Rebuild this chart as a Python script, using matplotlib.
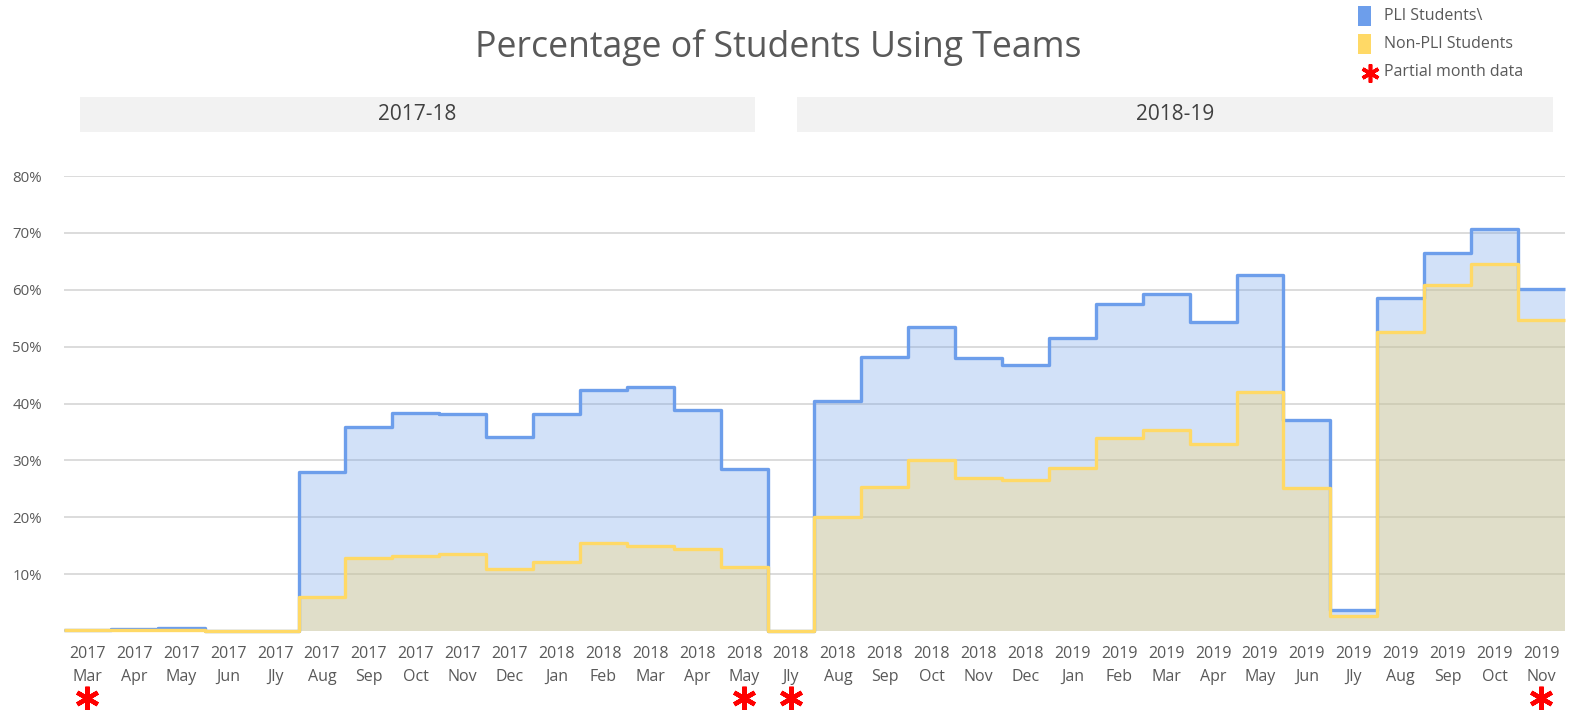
import numpy as np
import matplotlib
matplotlib.use("Agg")
import matplotlib.pyplot as plt
from matplotlib.patches import Rectangle
from matplotlib.transforms import blended_transform_factory
from matplotlib.lines import Line2D

# ---- data ----
years = ["2017"] * 10 + ["2018"] * 5 + ["2018"] * 6 + ["2019"] * 11
months = ["Mar", "Apr", "May", "Jun", "Jly", "Aug", "Sep", "Oct", "Nov", "Dec",
          "Jan", "Feb", "Mar", "Apr", "May",
          "Jly", "Aug", "Sep", "Oct", "Nov", "Dec",
          "Jan", "Feb", "Mar", "Apr", "May", "Jun", "Jly", "Aug", "Sep", "Oct", "Nov"]
pli = [0.1, 0.3, 0.5, 0.05, 0.05, 27.9, 35.8, 38.4, 38.1, 34.1,
       38.2, 42.3, 42.9, 38.9, 28.4,
       0.0, 40.4, 48.2, 53.4, 48.0, 46.7,
       51.5, 57.5, 59.2, 54.3, 62.6, 37.1, 3.7, 58.6, 66.5, 70.6, 60.2]
non_pli = [0.1, 0.1, 0.1, 0.05, 0.05, 5.9, 12.9, 13.2, 13.6, 10.9,
           12.2, 15.4, 15.0, 14.5, 11.3,
           0.0, 20.1, 25.3, 30.0, 26.9, 26.6,
           28.7, 34.0, 35.3, 32.9, 42.1, 25.1, 2.6, 52.6, 60.9, 64.6, 54.7]
partial_months = ["2017 Mar", "2018 May", "2018 Jly", "2019 Nov"]
yticks = [10, 20, 30, 40, 50, 60, 70, 80]
facets = ["2017-18", "2018-19"]
title = "Percentage of Students Using Teams"
legend_labels = ["PLI Students\\", "Non-PLI Students", "Partial month data"]

# ---- style ----
W, H = 1571, 710
BLUE = "#6d9eeb"
YELLOW = "#ffd966"
GRAY = "#595959"
FONT = ["Open Sans", "DejaVu Sans"]
plt.rcParams["font.family"] = FONT

fig = plt.figure(figsize=(W / 100, H / 100), dpi=100)
ax_left, ax_right, ax_top, ax_bot = 64, 64 + 32 * 46.9, 176, 631
ax = fig.add_axes([ax_left / W, 1 - ax_bot / H, (ax_right - ax_left) / W, (ax_bot - ax_top) / H])

n = len(months)
edges = np.arange(n + 1)
p = np.append(pli, pli[-1])
q = np.append(non_pli, non_pli[-1])

ax.fill_between(edges, 0, p, step="post", color=BLUE, alpha=0.3, lw=0, zorder=2)
ax.fill_between(edges, 0, q, step="post", color=YELLOW, alpha=0.32, lw=0, zorder=3)
ax.plot(edges, p, drawstyle="steps-post", color=BLUE, lw=2.4, solid_joinstyle="round",
        solid_capstyle="butt", zorder=4, clip_on=False)
ax.plot(edges, q, drawstyle="steps-post", color=YELLOW, lw=2.4, solid_joinstyle="round",
        solid_capstyle="butt", zorder=5, clip_on=False)

ax.set_xlim(0, n)
ax.set_ylim(0, 80)
ax.set_yticks(yticks)
ax.set_yticklabels([f"{v}%" for v in yticks])
ax.yaxis.grid(True, color="#d9d9d9", lw=1.3, zorder=1)
ax.set_axisbelow(True)
ax.tick_params(axis="y", length=0, pad=16, labelsize=10.8, labelcolor=GRAY)
centers = np.arange(n) + 0.5
ax.set_xticks(centers)
ax.set_xticklabels([f"{y}\n{m}" for y, m in zip(years, months)], linespacing=1.6)
ax.tick_params(axis="x", length=0, pad=10.5, labelsize=11.5, labelcolor=GRAY)
for s in ax.spines.values():
    s.set_visible(False)

# partial-month asterisks
cats = [f"{y} {m}" for y, m in zip(years, months)]
tr = blended_transform_factory(ax.transData, fig.transFigure)
for c in partial_months:
    i = cats.index(c)
    ax.plot([centers[i]], [1 - 698 / H], transform=tr, marker=(6, 2, 0), ms=17,
            mew=3.2, color="#ff0000", clip_on=False, zorder=6)

# title
fig.text(778 / W, 1 - 47 / H, title, ha="center", va="center", fontsize=25.7, color=GRAY)

# facet strips
for (x0, x1), lab in zip([(80, 755), (797, 1553)], facets):
    fig.add_artist(Rectangle((x0 / W, 1 - 132 / H), (x1 - x0) / W, 35 / H,
                             transform=fig.transFigure, color="#f2f2f2", lw=0))
    fig.text((x0 + x1) / 2 / W, 1 - 115 / H, lab, ha="center", va="center",
             fontsize=15, color="#404040")

# legend
fig.add_artist(Rectangle((1358 / W, 1 - 26 / H), 13 / W, 20 / H, transform=fig.transFigure,
                         color=BLUE, lw=0))
fig.add_artist(Rectangle((1358 / W, 1 - 54 / H), 13 / W, 20 / H, transform=fig.transFigure,
                         color=YELLOW, lw=0))
fig.add_artist(Line2D([1370 / W], [1 - 73 / H], transform=fig.transFigure, marker=(6, 2, 0),
                      ms=13, mew=2.6, color="#ff0000"))
for ypix, lab in zip([16, 44, 72], legend_labels):
    fig.text(1384 / W, 1 - ypix / H, lab, ha="left", va="center", fontsize=11.5, color=GRAY)

fig.savefig("out.png", dpi=100)
